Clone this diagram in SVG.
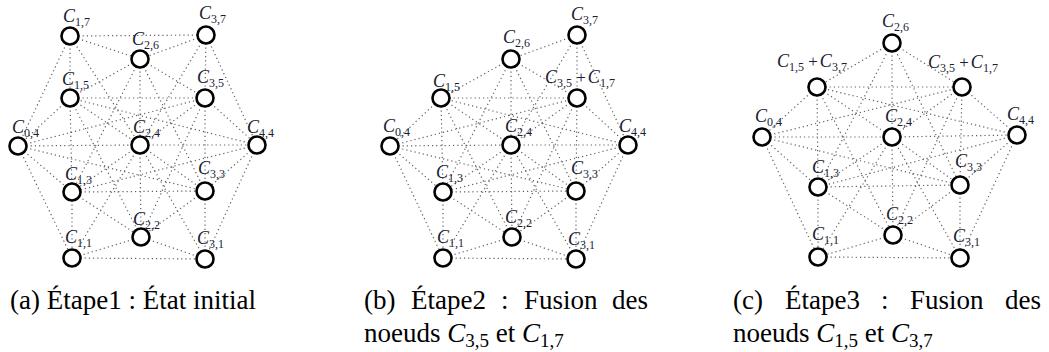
<svg xmlns="http://www.w3.org/2000/svg" width="1049" height="352" viewBox="0 0 1049 352">
<style>
.e line{stroke:#606060;stroke-width:1.2;stroke-dasharray:1.2 3;fill:none}
.n circle{fill:#fff;stroke:#000;stroke-width:2.6}
text{font-family:'Liberation Serif','Times New Roman',Tinos,'DejaVu Serif',serif}
.lbl{fill:#1a1d33}
.c{font-style:italic;font-size:18px}
.s{font-size:12px}
.p{font-size:17px}
.cap{font-size:27px;fill:#000}
.ci{font-style:italic}
.cs{font-size:19px}
</style>
<rect width="1049" height="352" fill="#fff"/>
<g id="edges-a" class="e">
<line x1="70" y1="36" x2="206" y2="35"/><line x1="70" y1="98" x2="205" y2="98"/><line x1="18" y1="146" x2="140" y2="145"/><line x1="140" y1="145" x2="257" y2="145"/><line x1="72" y1="192" x2="205" y2="191"/><line x1="72" y1="258" x2="205" y2="259"/>
<line x1="70" y1="36" x2="70" y2="98"/><line x1="70" y1="98" x2="72" y2="192"/><line x1="72" y1="192" x2="72" y2="258"/><line x1="206" y1="35" x2="205" y2="98"/><line x1="205" y1="98" x2="205" y2="191"/><line x1="205" y1="191" x2="205" y2="259"/><line x1="140" y1="59" x2="140" y2="145"/><line x1="140" y1="145" x2="141" y2="237"/>
<line x1="70" y1="36" x2="140" y2="59"/><line x1="206" y1="35" x2="140" y2="59"/><line x1="140" y1="59" x2="70" y2="98"/><line x1="140" y1="59" x2="205" y2="98"/><line x1="70" y1="98" x2="18" y2="146"/><line x1="70" y1="98" x2="140" y2="145"/><line x1="205" y1="98" x2="140" y2="145"/><line x1="205" y1="98" x2="257" y2="145"/><line x1="18" y1="146" x2="72" y2="192"/><line x1="140" y1="145" x2="72" y2="192"/><line x1="140" y1="145" x2="205" y2="191"/><line x1="257" y1="145" x2="205" y2="191"/><line x1="72" y1="192" x2="141" y2="237"/><line x1="205" y1="191" x2="141" y2="237"/><line x1="141" y1="237" x2="72" y2="258"/><line x1="141" y1="237" x2="205" y2="259"/>
<line x1="70" y1="36" x2="18" y2="146"/><line x1="70" y1="36" x2="140" y2="145"/><line x1="206" y1="35" x2="140" y2="145"/><line x1="206" y1="35" x2="257" y2="145"/><line x1="18" y1="146" x2="72" y2="258"/><line x1="140" y1="145" x2="72" y2="258"/><line x1="140" y1="145" x2="205" y2="259"/><line x1="257" y1="145" x2="205" y2="259"/><line x1="140" y1="59" x2="72" y2="192"/><line x1="140" y1="59" x2="205" y2="191"/><line x1="70" y1="98" x2="141" y2="237"/><line x1="205" y1="98" x2="141" y2="237"/><line x1="18" y1="146" x2="205" y2="98"/><line x1="18" y1="146" x2="205" y2="191"/><line x1="257" y1="145" x2="70" y2="98"/><line x1="257" y1="145" x2="72" y2="192"/>
</g>
<g id="edges-b" class="e">
<line x1="441" y1="98" x2="577" y2="98"/><line x1="390" y1="146" x2="511" y2="145"/><line x1="511" y1="145" x2="628" y2="145"/><line x1="443" y1="192" x2="576" y2="191"/><line x1="443" y1="258" x2="576" y2="259"/>
<line x1="441" y1="98" x2="443" y2="192"/><line x1="443" y1="192" x2="443" y2="258"/><line x1="577" y1="35" x2="577" y2="98"/><line x1="577" y1="98" x2="576" y2="191"/><line x1="576" y1="191" x2="576" y2="259"/><line x1="511" y1="59" x2="511" y2="145"/><line x1="511" y1="145" x2="512" y2="237"/>
<line x1="577" y1="35" x2="511" y2="59"/><line x1="511" y1="59" x2="441" y2="98"/><line x1="511" y1="59" x2="577" y2="98"/><line x1="441" y1="98" x2="390" y2="146"/><line x1="441" y1="98" x2="511" y2="145"/><line x1="577" y1="98" x2="511" y2="145"/><line x1="577" y1="98" x2="628" y2="145"/><line x1="390" y1="146" x2="443" y2="192"/><line x1="511" y1="145" x2="443" y2="192"/><line x1="511" y1="145" x2="576" y2="191"/><line x1="628" y1="145" x2="576" y2="191"/><line x1="443" y1="192" x2="512" y2="237"/><line x1="576" y1="191" x2="512" y2="237"/><line x1="512" y1="237" x2="443" y2="258"/><line x1="512" y1="237" x2="576" y2="259"/>
<line x1="577" y1="35" x2="511" y2="145"/><line x1="577" y1="35" x2="628" y2="145"/><line x1="390" y1="146" x2="443" y2="258"/><line x1="511" y1="145" x2="443" y2="258"/><line x1="511" y1="145" x2="576" y2="259"/><line x1="628" y1="145" x2="576" y2="259"/><line x1="511" y1="59" x2="443" y2="192"/><line x1="511" y1="59" x2="576" y2="191"/><line x1="441" y1="98" x2="512" y2="237"/><line x1="577" y1="98" x2="512" y2="237"/><line x1="390" y1="146" x2="577" y2="98"/><line x1="390" y1="146" x2="576" y2="191"/><line x1="628" y1="145" x2="441" y2="98"/><line x1="628" y1="145" x2="443" y2="192"/>
</g>
<g id="edges-c" class="e">
<line x1="817" y1="87" x2="962" y2="87"/><line x1="762" y1="137" x2="892" y2="137"/><line x1="892" y1="137" x2="1017" y2="135"/><line x1="818" y1="187" x2="960" y2="185"/><line x1="818" y1="257" x2="960" y2="258"/>
<line x1="817" y1="87" x2="818" y2="187"/><line x1="818" y1="187" x2="818" y2="257"/><line x1="962" y1="87" x2="960" y2="185"/><line x1="960" y1="185" x2="960" y2="258"/><line x1="892" y1="43" x2="892" y2="137"/><line x1="892" y1="137" x2="893" y2="235"/>
<line x1="892" y1="43" x2="817" y2="87"/><line x1="892" y1="43" x2="962" y2="87"/><line x1="817" y1="87" x2="762" y2="137"/><line x1="817" y1="87" x2="892" y2="137"/><line x1="962" y1="87" x2="892" y2="137"/><line x1="962" y1="87" x2="1017" y2="135"/><line x1="762" y1="137" x2="818" y2="187"/><line x1="892" y1="137" x2="818" y2="187"/><line x1="892" y1="137" x2="960" y2="185"/><line x1="1017" y1="135" x2="960" y2="185"/><line x1="818" y1="187" x2="893" y2="235"/><line x1="960" y1="185" x2="893" y2="235"/><line x1="893" y1="235" x2="818" y2="257"/><line x1="893" y1="235" x2="960" y2="258"/>
<line x1="762" y1="137" x2="818" y2="257"/><line x1="892" y1="137" x2="818" y2="257"/><line x1="892" y1="137" x2="960" y2="258"/><line x1="1017" y1="135" x2="960" y2="258"/><line x1="892" y1="43" x2="818" y2="187"/><line x1="892" y1="43" x2="960" y2="185"/><line x1="817" y1="87" x2="893" y2="235"/><line x1="962" y1="87" x2="893" y2="235"/><line x1="762" y1="137" x2="962" y2="87"/><line x1="762" y1="137" x2="960" y2="185"/><line x1="1017" y1="135" x2="817" y2="87"/><line x1="1017" y1="135" x2="818" y2="187"/>
</g>
<g class="n">
<g id="a-C17"><circle cx="70" cy="36" r="8.5"/><text class="lbl" x="63" y="22"><tspan class="c">C</tspan><tspan class="s" dy="4">1,7</tspan></text></g>
<g id="a-C37"><circle cx="206" cy="35" r="8.5"/><text class="lbl" x="199" y="19"><tspan class="c">C</tspan><tspan class="s" dy="4">3,7</tspan></text></g>
<g id="a-C26"><circle cx="140" cy="59" r="8.5"/><text class="lbl" x="132" y="45"><tspan class="c">C</tspan><tspan class="s" dy="4">2,6</tspan></text></g>
<g id="a-C15"><circle cx="70" cy="98" r="8.5"/><text class="lbl" x="62" y="85"><tspan class="c">C</tspan><tspan class="s" dy="4">1,5</tspan></text></g>
<g id="a-C35"><circle cx="205" cy="98" r="8.5"/><text class="lbl" x="197" y="83"><tspan class="c">C</tspan><tspan class="s" dy="4">3,5</tspan></text></g>
<g id="a-C04"><circle cx="18" cy="146" r="8.5"/><text class="lbl" x="12" y="133"><tspan class="c">C</tspan><tspan class="s" dy="4">0,4</tspan></text></g>
<g id="a-C24"><circle cx="140" cy="145" r="8.5"/><text class="lbl" x="133" y="133"><tspan class="c">C</tspan><tspan class="s" dy="4">2,4</tspan></text></g>
<g id="a-C44"><circle cx="257" cy="145" r="8.5"/><text class="lbl" x="247" y="133"><tspan class="c">C</tspan><tspan class="s" dy="4">4,4</tspan></text></g>
<g id="a-C13"><circle cx="72" cy="192" r="8.5"/><text class="lbl" x="65" y="180"><tspan class="c">C</tspan><tspan class="s" dy="4">1,3</tspan></text></g>
<g id="a-C33"><circle cx="205" cy="191" r="8.5"/><text class="lbl" x="198" y="174"><tspan class="c">C</tspan><tspan class="s" dy="4">3,3</tspan></text></g>
<g id="a-C22"><circle cx="141" cy="237" r="8.5"/><text class="lbl" x="133" y="225"><tspan class="c">C</tspan><tspan class="s" dy="4">2,2</tspan></text></g>
<g id="a-C11"><circle cx="72" cy="258" r="8.5"/><text class="lbl" x="65" y="243"><tspan class="c">C</tspan><tspan class="s" dy="4">1,1</tspan></text></g>
<g id="a-C31"><circle cx="205" cy="259" r="8.5"/><text class="lbl" x="197" y="244"><tspan class="c">C</tspan><tspan class="s" dy="4">3,1</tspan></text></g>

<g id="b-C37"><circle cx="577" cy="35" r="8.5"/><text class="lbl" x="571" y="20"><tspan class="c">C</tspan><tspan class="s" dy="4">3,7</tspan></text></g>
<g id="b-C26"><circle cx="511" cy="59" r="8.5"/><text class="lbl" x="503" y="43"><tspan class="c">C</tspan><tspan class="s" dy="4">2,6</tspan></text></g>
<g id="b-C15"><circle cx="441" cy="98" r="8.5"/><text class="lbl" x="433" y="87"><tspan class="c">C</tspan><tspan class="s" dy="4">1,5</tspan></text></g>
<g id="b-C35C17"><circle cx="577" cy="98" r="8.5"/><text class="lbl" x="545" y="83"><tspan class="c">C</tspan><tspan class="s" dy="4">3,5</tspan><tspan class="p" dy="-4"> +</tspan><tspan class="c" dx="2">C</tspan><tspan class="s" dy="4">1,7</tspan></text></g>
<g id="b-C04"><circle cx="390" cy="146" r="8.5"/><text class="lbl" x="383" y="132"><tspan class="c">C</tspan><tspan class="s" dy="4">0,4</tspan></text></g>
<g id="b-C24"><circle cx="511" cy="145" r="8.5"/><text class="lbl" x="505" y="132"><tspan class="c">C</tspan><tspan class="s" dy="4">2,4</tspan></text></g>
<g id="b-C44"><circle cx="628" cy="145" r="8.5"/><text class="lbl" x="619" y="132"><tspan class="c">C</tspan><tspan class="s" dy="4">4,4</tspan></text></g>
<g id="b-C13"><circle cx="443" cy="192" r="8.5"/><text class="lbl" x="436" y="178"><tspan class="c">C</tspan><tspan class="s" dy="4">1,3</tspan></text></g>
<g id="b-C33"><circle cx="576" cy="191" r="8.5"/><text class="lbl" x="571" y="174"><tspan class="c">C</tspan><tspan class="s" dy="4">3,3</tspan></text></g>
<g id="b-C22"><circle cx="512" cy="237" r="8.5"/><text class="lbl" x="505" y="223"><tspan class="c">C</tspan><tspan class="s" dy="4">2,2</tspan></text></g>
<g id="b-C11"><circle cx="443" cy="258" r="8.5"/><text class="lbl" x="437" y="243"><tspan class="c">C</tspan><tspan class="s" dy="4">1,1</tspan></text></g>
<g id="b-C31"><circle cx="576" cy="259" r="8.5"/><text class="lbl" x="568" y="245"><tspan class="c">C</tspan><tspan class="s" dy="4">3,1</tspan></text></g>

<g id="c-C26"><circle cx="892" cy="43" r="8.5"/><text class="lbl" x="882" y="27"><tspan class="c">C</tspan><tspan class="s" dy="4">2,6</tspan></text></g>
<g id="c-C15C37"><circle cx="817" cy="87" r="8.5"/><text class="lbl" x="777" y="67"><tspan class="c">C</tspan><tspan class="s" dy="4">1,5</tspan><tspan class="p" dy="-4"> +</tspan><tspan class="c" dx="2">C</tspan><tspan class="s" dy="4">3,7</tspan></text></g>
<g id="c-C35C17"><circle cx="962" cy="87" r="8.5"/><text class="lbl" x="928" y="68"><tspan class="c">C</tspan><tspan class="s" dy="4">3,5</tspan><tspan class="p" dy="-4"> +</tspan><tspan class="c" dx="2">C</tspan><tspan class="s" dy="4">1,7</tspan></text></g>
<g id="c-C04"><circle cx="762" cy="137" r="8.5"/><text class="lbl" x="755" y="122"><tspan class="c">C</tspan><tspan class="s" dy="4">0,4</tspan></text></g>
<g id="c-C24"><circle cx="892" cy="137" r="8.5"/><text class="lbl" x="885" y="122"><tspan class="c">C</tspan><tspan class="s" dy="4">2,4</tspan></text></g>
<g id="c-C44"><circle cx="1017" cy="135" r="8.5"/><text class="lbl" x="1007" y="120"><tspan class="c">C</tspan><tspan class="s" dy="4">4,4</tspan></text></g>
<g id="c-C13"><circle cx="818" cy="187" r="8.5"/><text class="lbl" x="812" y="173"><tspan class="c">C</tspan><tspan class="s" dy="4">1,3</tspan></text></g>
<g id="c-C33"><circle cx="960" cy="185" r="8.5"/><text class="lbl" x="955" y="167"><tspan class="c">C</tspan><tspan class="s" dy="4">3,3</tspan></text></g>
<g id="c-C22"><circle cx="893" cy="235" r="8.5"/><text class="lbl" x="886" y="220"><tspan class="c">C</tspan><tspan class="s" dy="4">2,2</tspan></text></g>
<g id="c-C11"><circle cx="818" cy="257" r="8.5"/><text class="lbl" x="812" y="240"><tspan class="c">C</tspan><tspan class="s" dy="4">1,1</tspan></text></g>
<g id="c-C31"><circle cx="960" cy="258" r="8.5"/><text class="lbl" x="953" y="242"><tspan class="c">C</tspan><tspan class="s" dy="4">3,1</tspan></text></g>
</g>
<g id="captions">
<text class="cap" x="10" y="309">(a) Étape1 : État initial</text>
<text class="cap" y="309"><tspan x="364">(b)</tspan><tspan x="411">Étape2</tspan><tspan x="501">:</tspan><tspan x="524">Fusion</tspan><tspan x="648" text-anchor="end">des</tspan></text>
<text class="cap" x="364" y="342">noeuds <tspan class="ci">C</tspan><tspan class="cs" dy="5">3,5</tspan><tspan dy="-5"> et </tspan><tspan class="ci">C</tspan><tspan class="cs" dy="5">1,7</tspan></text>
<text class="cap" y="309"><tspan x="733">(c)</tspan><tspan x="785">Étape3</tspan><tspan x="881">:</tspan><tspan x="910">Fusion</tspan><tspan x="1041" text-anchor="end">des</tspan></text>
<text class="cap" x="733" y="342">noeuds <tspan class="ci">C</tspan><tspan class="cs" dy="5">1,5</tspan><tspan dy="-5"> et </tspan><tspan class="ci">C</tspan><tspan class="cs" dy="5">3,7</tspan></text>
</g>
</svg>
